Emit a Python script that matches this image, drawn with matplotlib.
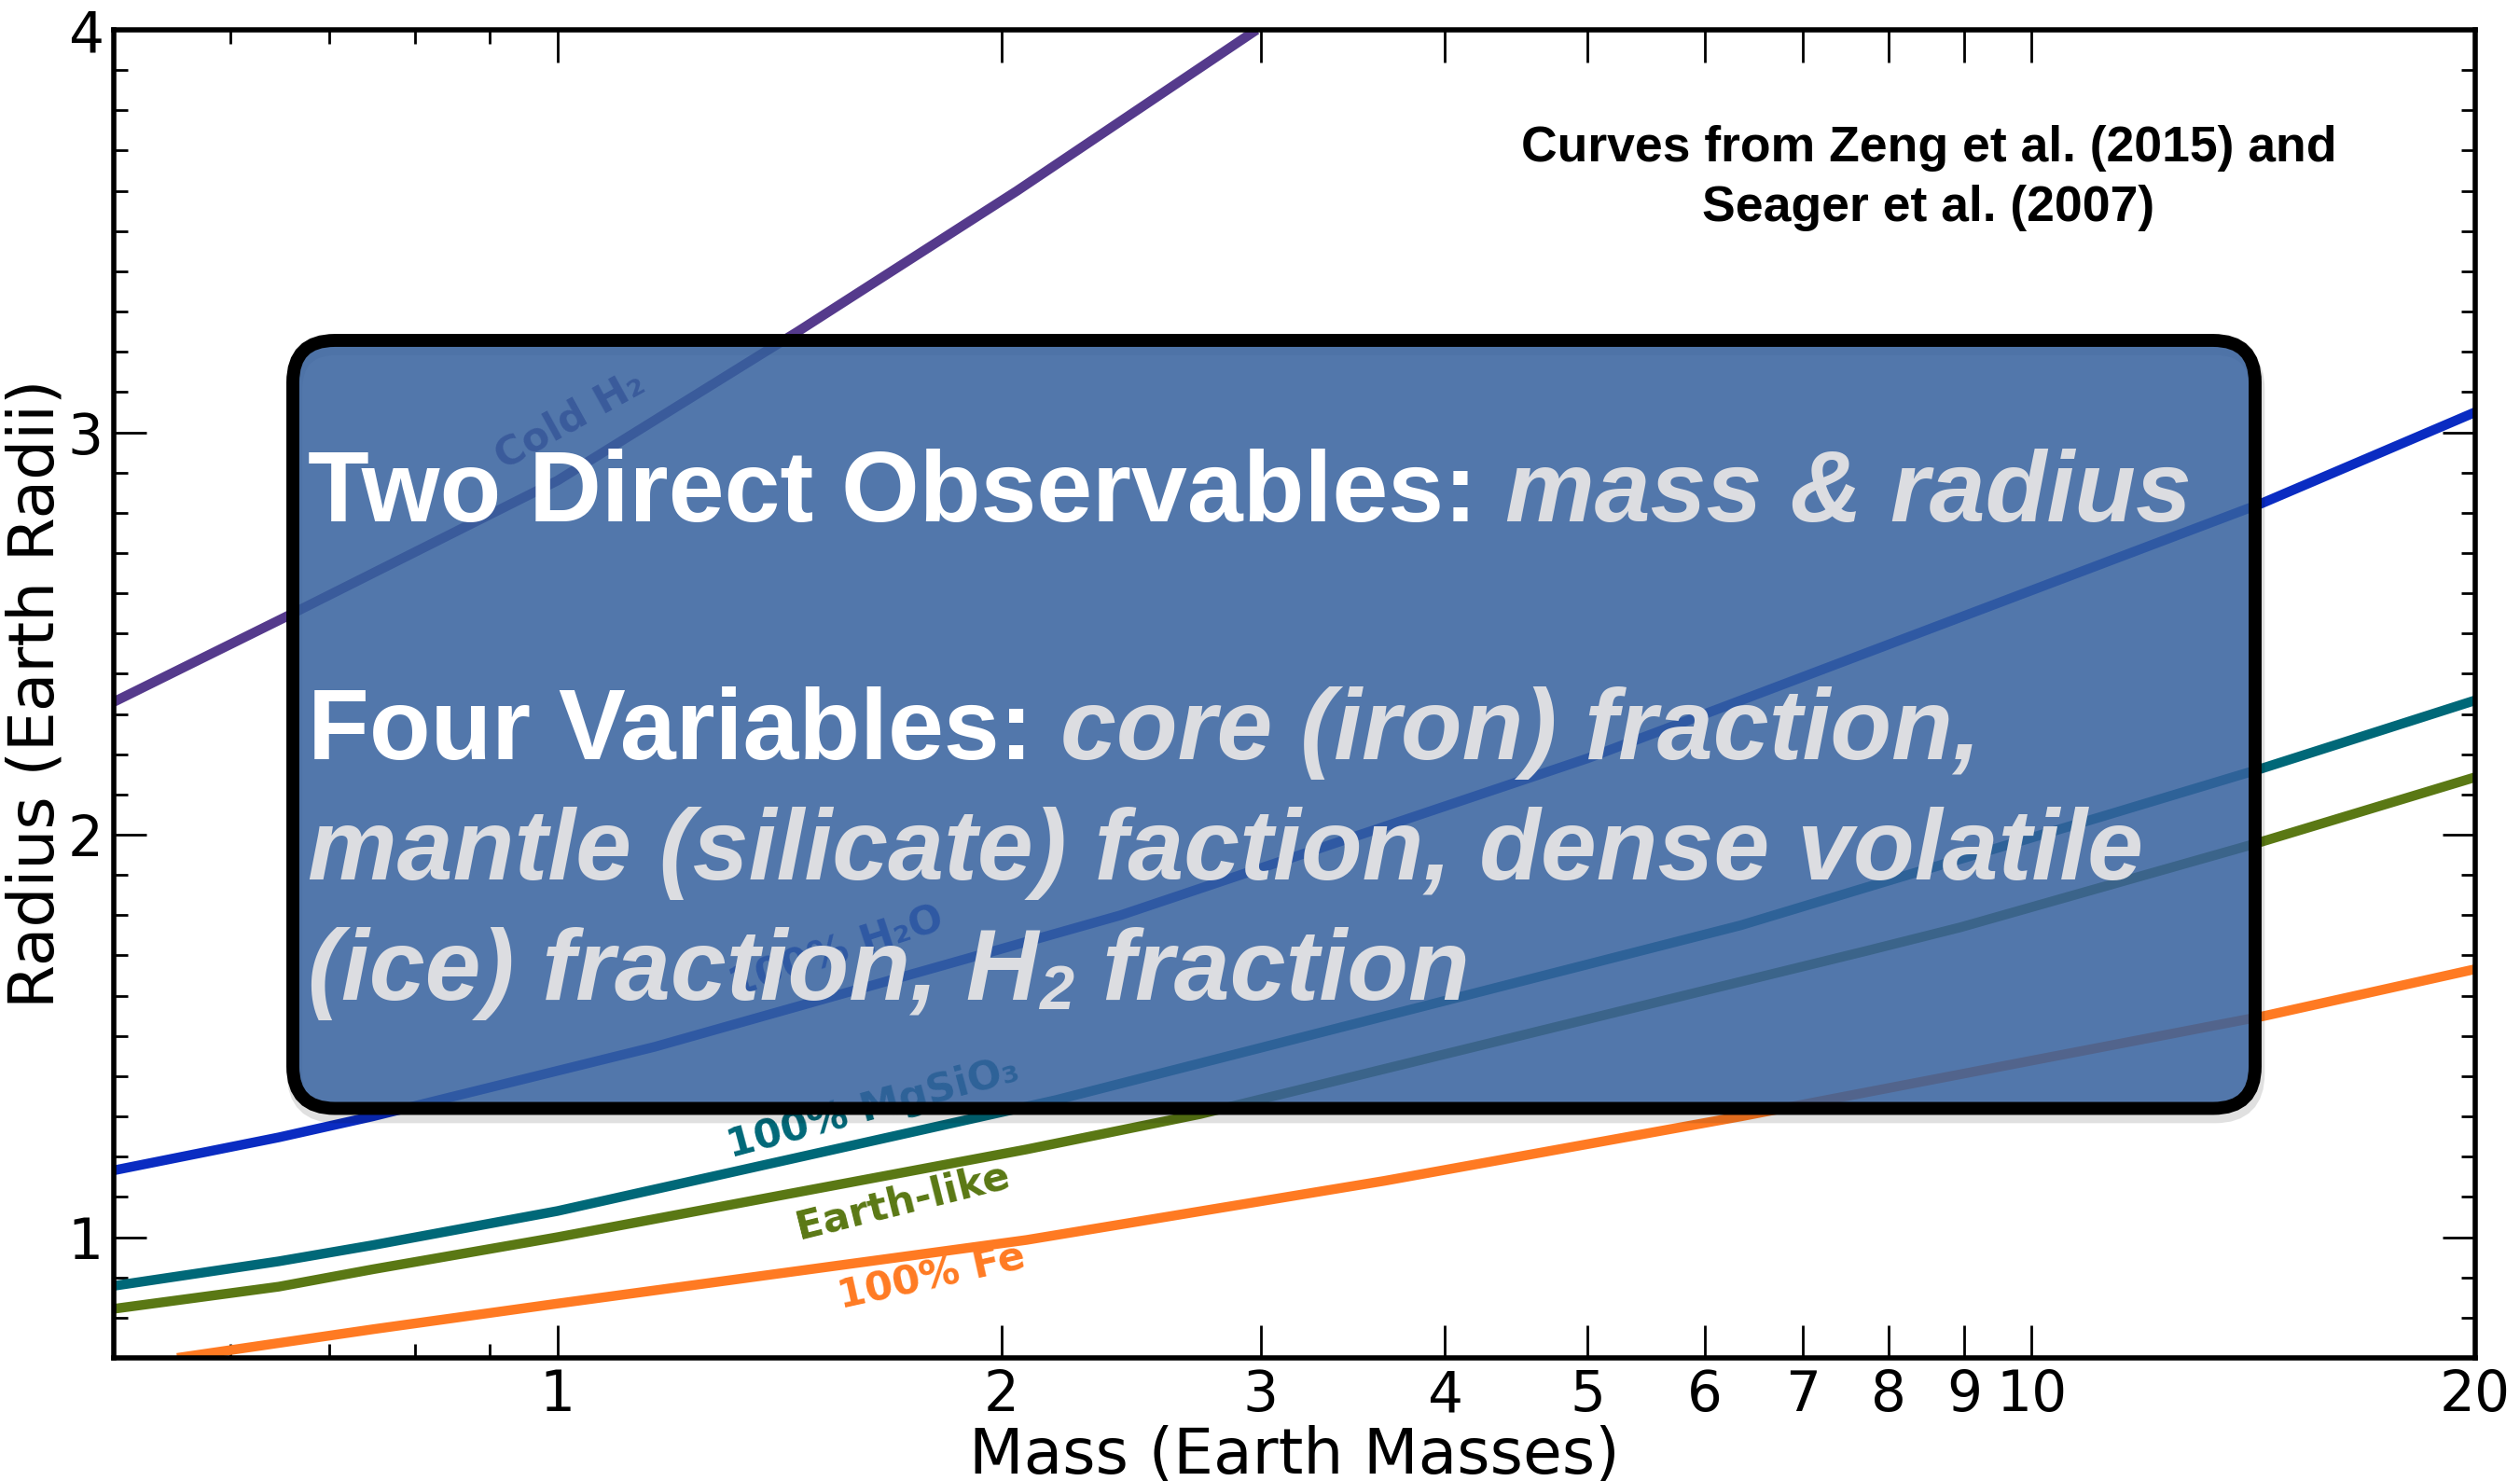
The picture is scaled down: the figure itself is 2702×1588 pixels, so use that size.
import numpy as np
import matplotlib
matplotlib.use("Agg")
import matplotlib.pyplot as plt
from matplotlib.patches import FancyBboxPatch
from matplotlib.ticker import FixedLocator, FixedFormatter, NullFormatter
from matplotlib.transforms import IdentityTransform

# mass-radius curves (Earth masses, Earth radii)
mass_h2 = [0.5, 0.653, 1.0, 1.455, 2.05, 2.98]
rad_h2 = [2.33, 2.54, 2.88, 3.25, 3.60, 4.0]

mass_h2o = [0.5, 0.647, 0.749, 1.164, 2.41, 5.0, 14.34, 20]
rad_h2o = [1.166, 1.248, 1.30, 1.473, 1.80, 2.19, 2.824, 3.05]

mass_mgsio3 = [0.5, 0.647, 0.749, 1.0, 2.18, 6.35, 7.74, 14.34, 20]
rad_mgsio3 = [0.879, 0.94, 0.98, 1.065, 1.341, 1.775, 1.87, 2.165, 2.334]

mass_earth = [0.5, 0.647, 0.749, 1.0, 2.08, 2.73, 7.74, 8.95, 14.1, 20]
rad_earth = [0.822, 0.877, 0.92, 1.0, 1.218, 1.306, 1.712, 1.77, 1.975, 2.143]

mass_fe = [0.552, 0.749, 1.0, 2.08, 3.64, 6.35, 14.4, 20]
rad_fe = [0.70, 0.771, 0.835, 0.993, 1.14, 1.30, 1.55, 1.666]

curve_names = ["Cold H\u2082", "100% H\u2082O", "100% MgSiO\u2083", "Earth-like", "100% Fe"]
curve_colors = ["#553a8c", "#0a2cc2", "#006878", "#5a7814", "#ff7a22"]
# label anchor (mass, radius) and angle
label_mass = [1.02, 1.546, 1.637, 1.716, 1.795]
label_rad = [3.03, 1.708, 1.32, 1.088, 0.90]
label_rot = [29, 18, 15, 14, 12.5]

xticks = [1, 2, 3, 4, 5, 6, 7, 8, 9, 10, 20]
xticklabels = ["1", "2", "3", "4", "5", "6", "7", "8", "9", "10", "20"]
xminor = [0.6, 0.7, 0.8, 0.9]
yticks = [1, 2, 3, 4]
yminor = [v / 10 for v in range(7, 40) if v % 10 != 0]

W, H = 2702, 1588
fig = plt.figure(figsize=(W / 100, H / 100), dpi=100)
ax = fig.add_axes([122 / W, (H - 1456) / H, 2532 / W, 1424 / H])

curves = [(mass_h2, rad_h2), (mass_h2o, rad_h2o), (mass_mgsio3, rad_mgsio3),
          (mass_earth, rad_earth), (mass_fe, rad_fe)]
for (m, r), c in zip(curves, curve_colors):
    ax.plot(m, r, color=c, lw=7.5, solid_capstyle="butt", solid_joinstyle="round", zorder=2)

for name, c, lm, lr, rot in zip(curve_names, curve_colors, label_mass, label_rad, label_rot):
    ax.text(lm, lr, name, color=c, fontsize=31, fontweight="bold", rotation=rot,
            rotation_mode="anchor", ha="center", va="center", zorder=3)

ax.set_xscale("log")
ax.set_xlim(0.5, 20)
ax.set_ylim(0.7, 4)

ax.xaxis.set_major_locator(FixedLocator(xticks))
ax.xaxis.set_major_formatter(FixedFormatter(xticklabels))
ax.xaxis.set_minor_locator(FixedLocator(xminor))
ax.xaxis.set_minor_formatter(NullFormatter())
ax.yaxis.set_major_locator(FixedLocator(yticks))
ax.yaxis.set_minor_locator(FixedLocator(yminor))

ax.tick_params(which="both", direction="in", top=True, right=True, width=2)
ax.tick_params(which="major", length=25, labelsize=43, pad=8)
ax.tick_params(which="minor", length=11)
for s in ax.spines.values():
    s.set_linewidth(4)

ax.set_xlabel("Mass (Earth Masses)", fontsize=49)
ax.set_ylabel("Radius (Earth Radii)", fontsize=49)
ax.xaxis.set_label_coords(0.5, -0.05)
ax.yaxis.set_label_coords(-0.02, 0.5)

# citation
pix = IdentityTransform()
cite_font = dict(family="Liberation Sans", fontweight="bold", fontsize=38.5, ha="center", va="baseline")
fig.text(2068, H - 173, "Curves from Zeng et al. (2015) and", transform=pix, **cite_font)
fig.text(2068, H - 237, "Seager et al. (2007)", transform=pix, **cite_font)

# overlay box
shadow = FancyBboxPatch((316, H - 1196), 2418 - 314, 1188.5 - 365,
                        boxstyle="round,pad=0,rounding_size=45", transform=pix,
                        fc="none", ec=(0, 0, 0, 0.12), lw=12, zorder=4)
fig.add_artist(shadow)
box = FancyBboxPatch((314, H - 1188.5), 2418 - 314, 1188.5 - 365,
                     boxstyle="round,pad=0,rounding_size=45", transform=pix,
                     fc=(0.21, 0.38, 0.62, 0.86), ec="black", lw=10, zorder=5)
fig.add_artist(box)

renderer = fig.canvas.get_renderer()
big = 77.5
em = big * 100 / 72
gap = 0.278 * em
plain = dict(family="Liberation Sans", fontweight="bold", color="white")
ital = dict(family="Liberation Sans", fontweight="bold", style="italic", color="#dcdde1")


def put_line(pieces, x, y):
    # y and dy in image pixels (downwards)
    for s, kw, size, dy, space in pieces:
        t = fig.text(x, H - y - dy, s, transform=pix, fontsize=size, ha="left",
                     va="baseline", zorder=6, **kw)
        x = t.get_window_extent(renderer=renderer).x1 + space


x0 = 330
put_line([("Two Direct Observables:", plain, big, 0, gap),
          ("mass & radius", ital, big, 0, 0)], x0, 559)
put_line([("Four Variables:", plain, big, 0, gap),
          ("core (iron) fraction,", ital, big, 0, 0)], x0, 814)
put_line([("mantle (silicate) faction, dense volatile", ital, big, 0, 0)], x0, 943)
put_line([("(ice) fraction, H", ital, big, 0, 1),
          ("2", ital, 48, 10, gap),
          ("fraction", ital, big, 0, 0)], x0, 1072)

fig.savefig("out.png", dpi=100)
